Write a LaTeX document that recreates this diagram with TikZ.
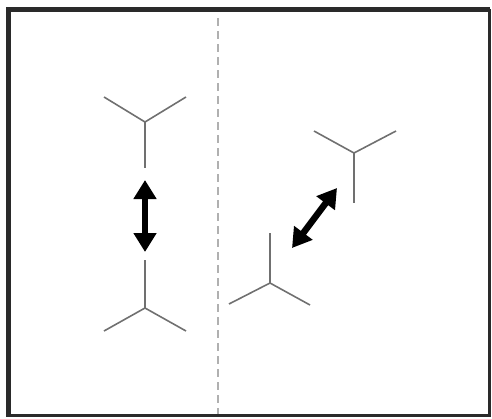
\documentclass[tikz,border=0pt]{standalone}
\usepackage{tikz}
\usepackage{xcolor}
\usetikzlibrary{arrows.meta}
\definecolor{armgray}{HTML}{707070}
\definecolor{dashgray}{HTML}{B0B0B0}
\definecolor{framegray}{HTML}{2A2A2A}
\tikzset{arm/.style={draw=armgray,line width=1.6pt},
  swap/.style={draw=black,line width=6.5pt,{Triangle[width=22pt,length=19pt]}-{Triangle[width=22pt,length=19pt]}}}

\begin{document}
\begin{tikzpicture}[x=1pt,y=-1pt]
\useasboundingbox (0,0) rectangle (492,418);
\draw[framegray,line width=3pt] (9,10) rectangle (489.5,415.5);
\draw[framegray,line width=4.5pt] (8.5,416.5) -- (8.5,9.5) -- (490,9.5);
\draw[dashgray,line width=1.2pt,dash pattern=on 8pt off 5pt] (218,18) -- (218,414);

\coordinate (ltc) at (145,122);
\coordinate (ltl) at (104,97);
\coordinate (ltr) at (186,97);
\coordinate (lts) at (145,168);
\draw[arm] (ltl) -- (ltc) -- (ltr);
\draw[arm] (ltc) -- (lts);

\coordinate (lbc) at (145,308);
\coordinate (lbl) at (104,331);
\coordinate (lbr) at (186,331);
\coordinate (lbs) at (145,260);
\draw[arm] (lbl) -- (lbc) -- (lbr);
\draw[arm] (lbc) -- (lbs);

\coordinate (la) at (145,180);
\coordinate (lb) at (145,252);
\draw[swap] (la) -- (lb);

\coordinate (rtc) at (354,153);
\coordinate (rtl) at (314,131);
\coordinate (rtr) at (396,131);
\coordinate (rts) at (354,203);
\draw[arm] (rtl) -- (rtc) -- (rtr);
\draw[arm] (rtc) -- (rts);

\coordinate (rbc) at (270,283);
\coordinate (rbl) at (229,304);
\coordinate (rbr) at (310,305);
\coordinate (rbs) at (270,233);
\draw[arm] (rbl) -- (rbc) -- (rbr);
\draw[arm] (rbc) -- (rbs);

\coordinate (ra) at (337,188);
\coordinate (rb) at (292,248);
\draw[swap] (ra) -- (rb);
\end{tikzpicture}
\end{document}
